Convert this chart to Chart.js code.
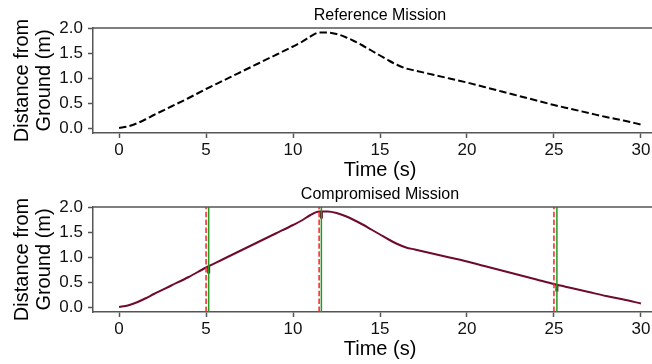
<!DOCTYPE html>
<html>
<head>
<meta charset="utf-8">
<script src="https://cdn.jsdelivr.net/npm/chart.js@4/dist/chart.umd.min.js"></script>
<style>
  html, body { margin: 0; padding: 0; background: #fff; }
  #wrap { position: relative; width: 652px; height: 364px; overflow: hidden; }
  .panel { position: absolute; left: 0; width: 672px; height: 180px; }
</style>
</head>
<body>
<div id="wrap">
  <div class="panel" style="top:0"><canvas id="refChart" width="672" height="180"></canvas></div>
  <div class="panel" style="top:179px"><canvas id="compChart" width="672" height="180"></canvas></div>
</div>
<script>
// time (s) and distance from ground (m)
const times = [0, 0.5, 1, 1.5, 2, 3, 4, 5, 6, 7, 8, 9, 10, 10.5, 11, 11.5, 12, 12.5, 13, 13.5, 14, 14.5, 15, 15.5, 16, 16.5, 17, 18, 19, 20, 21, 22, 23, 24, 25, 26, 27, 28, 29, 30];
const referenceDist = [0, 0.03, 0.09, 0.17, 0.26, 0.43, 0.6, 0.78, 0.95, 1.12, 1.29, 1.46, 1.63, 1.72, 1.83, 1.91, 1.91, 1.88, 1.82, 1.74, 1.65, 1.55, 1.45, 1.35, 1.26, 1.19, 1.15, 1.07, 0.99, 0.91, 0.82, 0.73, 0.64, 0.55, 0.46, 0.38, 0.3, 0.22, 0.15, 0.07];
// compromised run follows the same path
const compromisedDist = [0, 0.03, 0.09, 0.17, 0.26, 0.43, 0.6, 0.79, 0.96, 1.13, 1.3, 1.47, 1.64, 1.73, 1.84, 1.91, 1.91, 1.88, 1.82, 1.74, 1.65, 1.55, 1.45, 1.35, 1.26, 1.19, 1.15, 1.07, 0.99, 0.91, 0.82, 0.73, 0.64, 0.55, 0.46, 0.38, 0.3, 0.22, 0.15, 0.07];

// attack onset (red dashed) and detection (green) times, with the short dips at detection
const attackTimes = [5.0, 11.5, 25.0];
const detectTimes = [5.15, 11.63, 25.17];
const dipTop = [0.81, 1.91, 0.45];
const dipBottom = [0.67, 1.77, 0.31];

const xTicks = [0, 5, 10, 15, 20, 25, 30];
const yTicks = [0, 0.5, 1.0, 1.5, 2.0];
const yMin = -0.1, yMax = 2.0;

const spineColor = '#555555';
const fontFam = '"Liberation Sans", Arial, sans-serif';

const framePlugin = {
  id: 'frame',
  afterDraw(chart, args, opts) {
    const { ctx, chartArea: a } = chart;
    ctx.save();
    ctx.strokeStyle = spineColor;
    ctx.lineWidth = 1.5;
    ctx.beginPath();
    ctx.moveTo(a.left, a.top);
    ctx.lineTo(a.right, a.top);
    ctx.stroke();
    ctx.fillStyle = '#000';
    ctx.font = '16px ' + fontFam;
    ctx.textAlign = 'center';
    ctx.textBaseline = 'alphabetic';
    ctx.fillText(opts.text, (a.left + a.right) / 2, a.top - 8);
    ctx.restore();
  }
};

function pts(xs, ys) {
  return xs.map((x, i) => ({ x: x, y: ys[i] }));
}

function vline(t, lo, hi) {
  return [{ x: t, y: lo }, { x: t, y: hi }];
}

function makeOptions(title) {
  return {
    responsive: false,
    animation: false,
    layout: { padding: { top: 28, right: 5, left: 0, bottom: 0 } },
    plugins: { legend: { display: false }, tooltip: { enabled: false }, frame: { text: title } },
    elements: { point: { radius: 0 } },
    scales: {
      x: {
        type: 'linear',
        min: -1.5,
        max: 31.5,
        afterBuildTicks: s => { s.ticks = xTicks.map(v => ({ value: v })); },
        afterFit: s => { s.height = 47; },
        grid: { drawOnChartArea: false, color: spineColor, tickLength: 5, tickWidth: 1.5 },
        border: { color: spineColor, width: 1.5 },
        ticks: { color: '#111', font: { family: fontFam, size: 17 }, padding: 2, maxRotation: 0, autoSkip: false },
        title: { display: true, text: 'Time (s)', color: '#000', font: { family: fontFam, size: 20, lineHeight: 1 }, padding: 0 }
      },
      y: {
        min: yMin,
        max: yMax,
        afterBuildTicks: s => { s.ticks = yTicks.map(v => ({ value: v })); },
        afterFit: s => { s.width = 93; },
        grid: { drawOnChartArea: false, color: spineColor, tickLength: 5, tickWidth: 1.5 },
        border: { color: spineColor, width: 1.5 },
        ticks: { color: '#111', font: { family: fontFam, size: 17 }, padding: 5, autoSkip: false, callback: v => v.toFixed(1) },
        title: { display: true, text: ['Distance from', 'Ground (m)'], color: '#000', font: { family: fontFam, size: 20, lineHeight: 1.1 }, padding: { top: 11, bottom: 0 } }
      }
    }
  };
}

new Chart(document.getElementById('refChart').getContext('2d'), {
  type: 'line',
  data: {
    datasets: [{
      data: pts(times, referenceDist),
      borderColor: '#000',
      borderWidth: 2,
      borderDash: [7.4, 3.2],
      cubicInterpolationMode: 'monotone'
    }]
  },
  options: makeOptions('Reference Mission'),
  plugins: [framePlugin]
});

const compSets = [];
attackTimes.forEach(t => {
  compSets.push({ data: vline(t, yMin, yMax), borderColor: '#ff2020', borderWidth: 1.5, borderDash: [5.5, 2.4] });
});
detectTimes.forEach(t => {
  compSets.push({ data: vline(t, yMin, yMax), borderColor: '#1f9a1f', borderWidth: 1.5 });
});
compSets.push({
  data: pts(times, compromisedDist),
  borderColor: '#6e0b2d',
  borderWidth: 2,
  cubicInterpolationMode: 'monotone'
});
detectTimes.forEach((t, i) => {
  compSets.push({ data: vline(t, dipBottom[i], dipTop[i]), borderColor: '#6e0b2d', borderWidth: 3 });
});

new Chart(document.getElementById('compChart').getContext('2d'), {
  type: 'line',
  data: { datasets: compSets },
  options: makeOptions('Compromised Mission'),
  plugins: [framePlugin]
});
</script>
</body>
</html>
